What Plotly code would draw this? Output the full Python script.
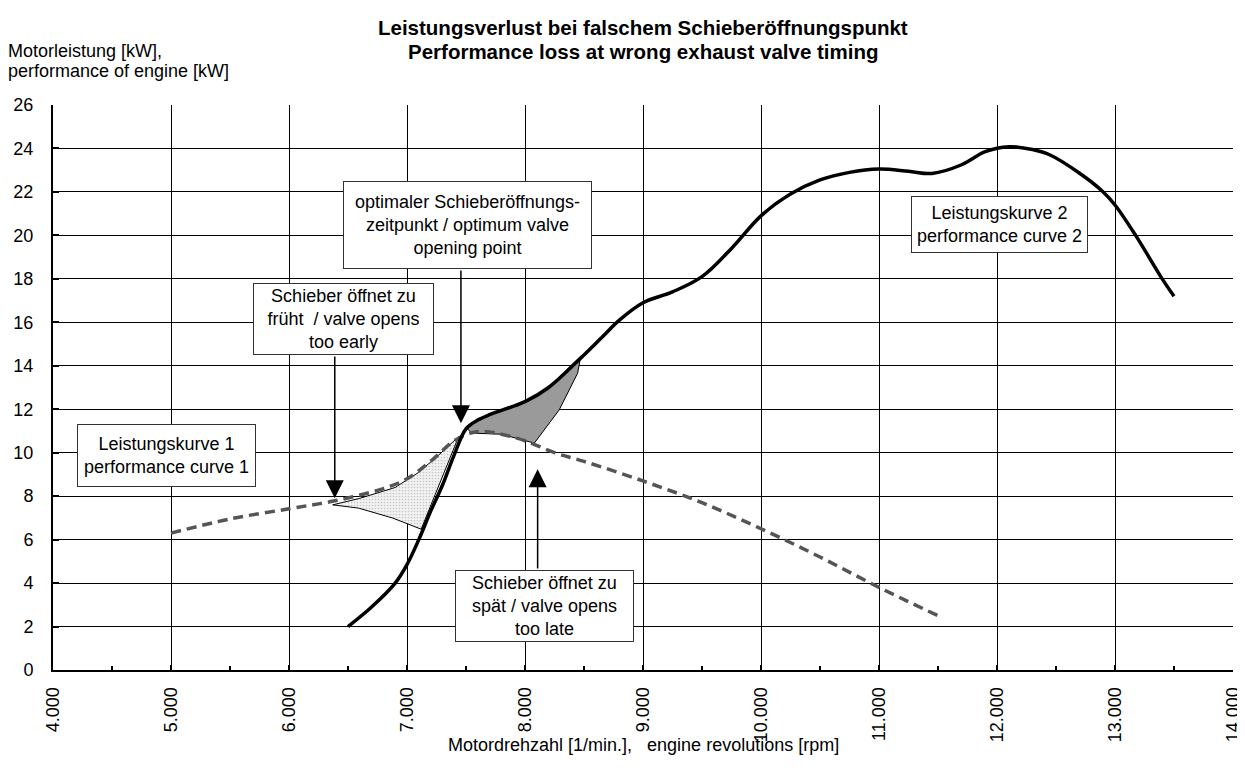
import plotly.graph_objects as go

# Leistungskurve 1 (gestrichelt)
rpm_1 = [5000, 5500, 6000, 6400, 6800, 7000, 7200, 7400, 7550, 7650, 7800, 8000, 8250, 8500, 9000, 9500, 10000, 10500, 11000, 11500]
kw_1 = [6.3, 6.95, 7.42, 7.8, 8.35, 8.8, 9.6, 10.55, 10.92, 10.98, 10.85, 10.55, 10.0, 9.6, 8.7, 7.7, 6.5, 5.2, 3.8, 2.5]

# Leistungskurve 2
rpm_2 = [6500, 6700, 6900, 7000, 7100, 7200, 7300, 7400, 7500, 7600, 7700, 7800, 8000, 8200, 8500, 8650, 8800, 9000, 9250, 9500,
         9750, 10000, 10250, 10500, 10750, 11000, 11250, 11450, 11700, 11900, 12100, 12300, 12450, 12700, 12900, 13000, 13175, 13400, 13500]
kw_2 = [2.0, 2.9, 4.0, 4.85, 6.0, 7.3, 8.5, 9.9, 11.1, 11.5, 11.75, 11.95, 12.35, 13.0, 14.5, 15.3, 16.1, 16.9, 17.4, 18.1,
        19.4, 20.9, 21.9, 22.55, 22.9, 23.05, 22.95, 22.85, 23.25, 23.85, 24.08, 23.95, 23.7, 22.86, 22.0, 21.4, 20.0, 18.0, 17.2]

# Flaeche "zu frueh"
rpm_early = [6370, 6600, 6900, 7100, 7250, 7440, 7420, 7300, 7200, 7120, 6880, 6590, 6370]
kw_early = [7.6, 7.9, 8.4, 9.1, 9.8, 10.75, 10.5, 8.9, 7.6, 6.48, 6.99, 7.45, 7.6]

# Flaeche "zu spaet"
rpm_late = [7500, 7600, 7800, 8000, 8200, 8473, 8446, 8290, 8079, 7800, 7550, 7500]
kw_late = [11.15, 11.5, 11.95, 12.35, 13.0, 14.45, 13.66, 11.97, 10.44, 10.85, 10.9, 11.15]

title_lines = ["Leistungsverlust bei falschem Schieberöffnungspunkt",
               "Performance loss at wrong exhaust valve timing"]
ytitle_lines = ["Motorleistung [kW],", "performance of engine [kW]"]
xtitle = "Motordrehzahl [1/min.],   engine revolutions [rpm]"

FONT = "Liberation Sans, Arial, sans-serif"
FS = 18

fig = go.Figure()

fig.add_trace(go.Scatter(x=rpm_early, y=kw_early, mode="lines", fill="toself",
                         fillcolor="#ececec",
                         fillpattern=dict(shape=".", bgcolor="#f2f2f2", fgcolor="#9a9a9a", size=3, solidity=0.25),
                         line=dict(color="black", width=1), hoverinfo="skip"))
fig.add_trace(go.Scatter(x=rpm_late, y=kw_late, mode="lines", fill="toself", fillcolor="#9a9a9a",
                         line=dict(color="black", width=1), hoverinfo="skip"))
fig.add_trace(go.Scatter(x=rpm_1, y=kw_1, mode="lines", line=dict(color="#555555", width=3.5, dash="10px,6px", shape="spline")))
fig.add_trace(go.Scatter(x=rpm_2, y=kw_2, mode="lines", line=dict(color="black", width=3.5, shape="spline")))

# Textfelder: (text, rpm, kW, breite, hoehe)
boxes = [
    ("optimaler Schieberöffnungs-<br>zeitpunkt / optimum valve<br>opening point", 7512, 20.5, 247, 86),
    ("Schieber öffnet zu<br>früht  / valve opens<br>too early", 6463, 16.15, 179, 70),
    ("Leistungskurve 1<br>performance curve 1", 4961, 9.85, 177, 61),
    ("Leistungskurve 2<br>performance curve 2", 12017, 20.5, 175, 55),
    ("Schieber öffnet zu<br>spät / valve opens<br>too late", 8167, 2.95, 177, 70),
]
for txt, bx, by, bw, bh in boxes:
    fig.add_annotation(x=bx, y=by, xref="x", yref="y", text=txt, showarrow=False,
                       width=bw, height=bh, align="center", valign="middle",
                       bgcolor="white", bordercolor="#333333", borderwidth=1, borderpad=0,
                       font=dict(family=FONT, size=FS, color="black"))

# Pfeile: (spitze rpm, spitze kW, ende rpm, ende kW)
arrows = [
    (7457, 11.35, 7457, 18.45),
    (6388, 7.9, 6388, 14.5),
    (8107, 9.24, 8107, 4.6),
]
for tx, ty, sx, sy in arrows:
    fig.add_annotation(x=tx, y=ty, ax=sx, ay=sy, xref="x", yref="y", axref="x", ayref="y",
                       text="", showarrow=True, arrowhead=2, arrowsize=2.4, arrowwidth=1.5,
                       arrowcolor="black")

# title and y title line by line (tighter spacing than plotly's <br>)
for line, ypos in zip(title_lines, [1.1375, 1.0955]):
    fig.add_annotation(x=0.5, y=ypos, xref="paper", yref="paper", xanchor="center", yanchor="middle",
                       text="<b>%s</b>" % line, showarrow=False,
                       font=dict(family=FONT, size=20.5, color="black"))
for line, ypos in zip(ytitle_lines, [1.096, 1.060]):
    fig.add_annotation(x=-0.0395, y=ypos, xref="paper", yref="paper", xanchor="left", yanchor="middle",
                       text=line, showarrow=False, align="left",
                       font=dict(family=FONT, size=FS, color="black"))
fig.add_annotation(x=0.5, y=-0.133, xref="paper", yref="paper", xanchor="center", yanchor="middle",
                   text=xtitle, showarrow=False,
                   font=dict(family=FONT, size=FS, color="black"))

# the page body adds 8px on the left and top, so the figure is 8px smaller
fig.update_layout(
    width=1237, height=764,
    margin=dict(l=45, r=12, t=97, b=102),
    paper_bgcolor="white", plot_bgcolor="white",
    showlegend=False, separators=",.",
    font=dict(family=FONT, size=FS, color="black"),
)
fig.update_xaxes(range=[4000, 14000], dtick=1000, tick0=4000, tickformat=",", tickangle=-90,
                 showgrid=True, gridcolor="black", gridwidth=1, zeroline=False,
                 showline=True, linecolor="black", linewidth=2,
                 ticks="inside", ticklen=5, tickwidth=2, tickcolor="black",
                 minor=dict(dtick=500, ticks="inside", ticklen=4, tickwidth=1.5, tickcolor="black", showgrid=False),
                 ticklabelstandoff=8, automargin=False)
fig.update_yaxes(range=[0, 26], dtick=2, tick0=0,
                 showgrid=True, gridcolor="black", gridwidth=1, zeroline=False,
                 showline=True, linecolor="black", linewidth=2,
                 ticks="inside", ticklen=6, tickwidth=2, tickcolor="black",
                 ticklabelstandoff=14, automargin=False)

fig.write_html("out.html")
